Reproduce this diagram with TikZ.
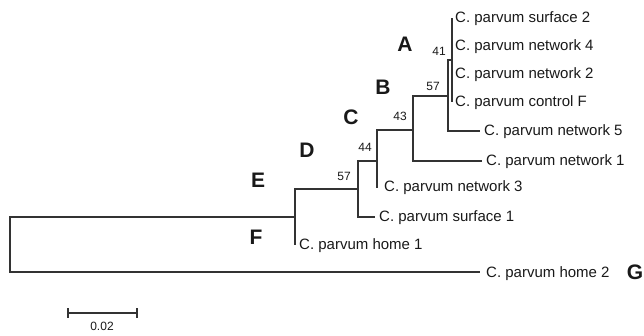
\documentclass[tikz,border=0pt]{standalone}
\usepackage{fontspec}
\setmainfont{Liberation Sans}
\usetikzlibrary{calc}
\begin{document}
\begin{tikzpicture}[x=1pt,y=-1pt,
  branch/.style={draw=black!80, line width=1.1pt},
  leaf/.style={anchor=base west, inner sep=0pt, text=black!90, font=\fontsize{15}{17}\selectfont},
  boot/.style={anchor=base east, inner sep=0pt, text=black!90, font=\fontsize{12}{14}\selectfont},
  clade/.style={inner sep=0pt, text=black!90, font=\fontsize{21}{25}\bfseries\selectfont}]
\useasboundingbox (0,0) rectangle (644,336);
% internal nodes
\coordinate (root) at (10,244.5);
\coordinate (E) at (295,217);
\coordinate (D) at (358,189);
\coordinate (C) at (377,161);
\coordinate (B) at (413,130);
\coordinate (N57) at (448,96);
\coordinate (A) at (452,60);
% leaf tips
\coordinate (s2) at (452,18);
\coordinate (n4) at (452,46);
\coordinate (n2) at (452,74);
\coordinate (cF) at (452,102);
\coordinate (n5) at (480,131);
\coordinate (n1) at (482,161);
\coordinate (n3) at (378,187);
\coordinate (s1) at (375,217);
\coordinate (h1) at (295,245);
\coordinate (h2) at (480,272);
% branches
\draw[branch] (root) |- (E);
\draw[branch] (root) |- (h2);
\draw[branch] (E) |- (D);
\draw[branch] (E) |- (h1);
\draw[branch] (D) |- (C);
\draw[branch] (D) |- (s1);
\draw[branch] (C) |- (B);
\draw[branch] (C) |- (n3);
\draw[branch] (B) |- (N57);
\draw[branch] (B) |- (n1);
\draw[branch] (N57) |- (A);
\draw[branch] (N57) |- (n5);
\draw[branch] (A) |- (s2);
\draw[branch] (A) |- (cF);
% leaf labels
\node[leaf] (ls2) at ($(s2)+(3,5)$) {C. parvum surface 2};
\node[leaf] (ln4) at ($(n4)+(3,5)$) {C. parvum network 4};
\node[leaf] (ln2) at ($(n2)+(3,5)$) {C. parvum network 2};
\node[leaf] (lcF) at ($(cF)+(3,5)$) {C. parvum control F};
\node[leaf] (ln5) at ($(n5)+(4,5)$) {C. parvum network 5};
\node[leaf] (ln1) at ($(n1)+(4,5)$) {C. parvum network 1};
\node[leaf] (ln3) at ($(n3)+(6,5)$) {C. parvum network 3};
\node[leaf] (ls1) at ($(s1)+(4,5)$) {C. parvum surface 1};
\node[leaf] (lh1) at ($(h1)+(4,5)$) {C. parvum home 1};
\node[leaf] (lh2) at ($(h2)+(6,5)$) {C. parvum home 2};
% bootstrap values
\node[boot] (b41) at (446,56) {41};
\node[boot] (b57a) at (440,91) {57};
\node[boot] (b43) at (407,121) {43};
\node[boot] (b44) at (372,152) {44};
\node[boot] (b57b) at (351,181) {57};
% clade letters
\node[clade] (cA) at (405,44) {A};
\node[clade] (cB) at (383,87) {B};
\node[clade] (cC) at (351,117) {C};
\node[clade] (cD) at (307,150) {D};
\node[clade] (cE) at (258,180) {E};
\node[clade] (cF2) at (256,237) {F};
\node[clade] (cG) at (635,272) {G};
% scale bar
\coordinate (sbL) at (68,313);
\coordinate (sbR) at (137,313);
\draw[branch] (sbL) -- (sbR);
\draw[branch] ($(sbL)+(0,-5)$) -- ($(sbL)+(0,5)$);
\draw[branch] ($(sbR)+(0,-5)$) -- ($(sbR)+(0,5)$);
\node[inner sep=0pt, text=black!90, font=\fontsize{12}{14}\selectfont] (sbt) at (102,326) {0.02};
\end{tikzpicture}
\end{document}
